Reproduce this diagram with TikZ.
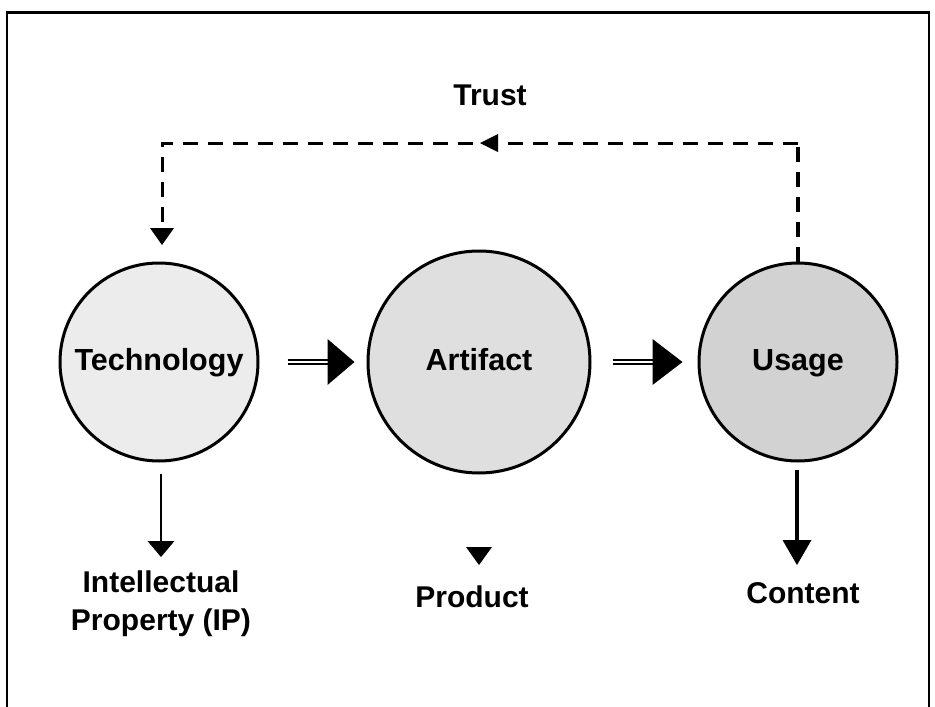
\documentclass[tikz,border=0pt]{standalone}
\usepackage{fontspec}
\setmainfont{Liberation Sans}
\usetikzlibrary{arrows.meta}
\begin{document}
\begin{tikzpicture}[x=1pt,y=-1pt,
  lbl/.style={font=\bfseries\fontsize{30}{38}\selectfont, align=center, inner sep=0pt},
  ball/.style={circle, draw, line width=3pt, inner sep=0pt,
    font=\bfseries\fontsize{30.5}{36}\selectfont, text height=22pt, text depth=6pt},
  dashline/.style={dash pattern=on 15pt off 10pt, line width=3pt},
  dblshaft/.style={double, double distance=2pt, line width=1.6pt},
  head/.style={fill=black}]
\useasboundingbox (0,0) rectangle (935,707);
% frame
\draw[line width=3pt] (6,12) -- (930,12);
\draw[line width=2pt] (7,12) -- (7,707);
\draw[line width=2pt] (929,12) -- (929,707);
% circles
\node[ball, fill=gray!15, minimum size=198pt] (tech) at (159,362) {Technology};
\node[ball, fill=gray!25, minimum size=222pt] (art) at (479,362) {Artifact};
\node[ball, fill=gray!35, minimum size=198pt] (use) at (798,362) {Usage};
% double arrows
\path (art.west) ++(-39,0) coordinate (h1);
\draw[dblshaft, shorten <=28pt] (tech.east) -- (h1);
\fill[head] (h1) ++(0,-23) -- ++(27,23) -- ++(-27,23) -- cycle;
\path (use.west) ++(-45,0) coordinate (h2);
\draw[dblshaft, shorten <=21pt] (art.east) -- (h2);
\fill[head] (h2) ++(0,-23) -- ++(30,23) -- ++(-30,23) -- cycle;
% trust feedback loop
\coordinate (tr) at (798,143);
\coordinate (tl) at (162,143);
\coordinate (tb) at (162,228);
\coordinate (tm) at (480,143);
\draw[dashline, line width=4pt] (use.north) -- (tr);
\draw[dashline] (tr) -- (tl) -- (tb);
\fill[head] (tb) ++(-12,0) -- ++(24,0) -- ++(-12,17) -- cycle;
\fill[head] (tm) -- ++(18,-9) -- ++(0,18) -- cycle;
\node[lbl] (trust) at (490,95) {Trust};
% bottom arrows
\coordinate (ipa) at (161,541);
\draw[line width=2pt] (161,474) -- (ipa);
\fill[head] (ipa) ++(-13.5,0) -- ++(27,0) -- ++(-13.5,16) -- cycle;
\coordinate (pra) at (479,547);
\fill[head] (pra) ++(-13,0) -- ++(26,0) -- ++(-13,18) -- cycle;
\coordinate (coa) at (797,540);
\draw[line width=4pt] (797,470) -- (coa);
\fill[head] (coa) ++(-14.5,0) -- ++(29,0) -- ++(-14.5,25) -- cycle;
% labels
\node[lbl] (ip) at (161,604) {Intellectual\\Property (IP)};
\node[lbl, anchor=base] (prod) at (472,607) {Product};
\node[lbl, anchor=base] (cont) at (803,603) {Content};
\end{tikzpicture}
\end{document}
